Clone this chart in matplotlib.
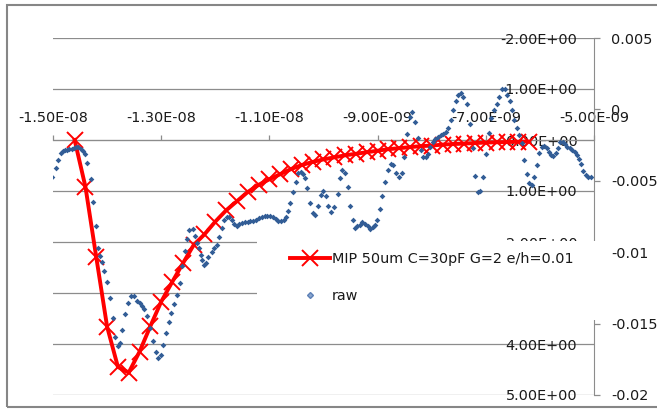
import numpy as np
import matplotlib
matplotlib.use('Agg')
import matplotlib.pyplot as plt
from matplotlib.patches import Rectangle
from matplotlib.lines import Line2D
from matplotlib.ticker import FuncFormatter

# MIP simulation, one point every 0.2 ns (primary axis, reversed)
mip_t_ns = [-14.6, -14.4, -14.2, -14.0, -13.8, -13.6, -13.4, -13.2, -13.0, -12.8,
            -12.6, -12.4, -12.2, -12.0, -11.8, -11.6, -11.4, -11.2, -11.0, -10.8,
            -10.6, -10.4, -10.2, -10.0, -9.8, -9.6, -9.4, -9.2, -9.0, -8.8,
            -8.6, -8.4, -8.2, -8.0, -7.8, -7.6, -7.4, -7.2, -7.0, -6.8,
            -6.6, -6.4, -6.2]
mip_val = [0.00, 0.92, 2.30, 3.66, 4.45, 4.56, 4.15, 3.65, 3.17, 2.79,
           2.42, 2.06, 1.85, 1.60, 1.38, 1.20, 1.02, 0.88, 0.77, 0.67,
           0.57, 0.49, 0.43, 0.38, 0.34, 0.30, 0.27, 0.24, 0.21, 0.18,
           0.16, 0.14, 0.12, 0.11, 0.09, 0.08, 0.07, 0.06, 0.05, 0.045,
           0.04, 0.035, 0.03]

# raw scope trace (secondary axis), time in ns, amplitude in mV
raw_t_ns = [-15.01, -14.95, -14.90, -14.86, -14.82, -14.78, -14.74, -14.70, -14.65, -14.61,
            -14.57, -14.53, -14.49, -14.45, -14.41, -14.37, -14.30, -14.26, -14.21, -14.16,
            -14.13, -14.09, -14.05, -14.00, -13.95, -13.90, -13.85, -13.80, -13.76, -13.72,
            -13.67, -13.61, -13.55, -13.50, -13.45, -13.40, -13.36, -13.32, -13.27, -13.21,
            -13.15, -13.10, -13.05, -13.01, -12.96, -12.92, -12.86, -12.81, -12.76, -12.70,
            -12.65, -12.61, -12.56, -12.52, -12.48, -12.42, -12.38, -12.34, -12.31, -12.27,
            -12.25, -12.21, -12.18, -12.13, -12.07, -12.02, -11.97, -11.93, -11.88, -11.83,
            -11.79, -11.74, -11.70, -11.65, -11.60, -11.56, -11.50, -11.45, -11.40, -11.35,
            -11.30, -11.25, -11.19, -11.14, -11.09, -11.04, -10.99, -10.94, -10.88, -10.84,
            -10.79, -10.73, -10.69, -10.66, -10.62, -10.56, -10.51, -10.47, -10.42, -10.38,
            -10.34, -10.30, -10.25, -10.20, -10.16, -10.10, -10.05, -10.00, -9.95, -9.91,
            -9.86, -9.81, -9.74, -9.69, -9.65, -9.60, -9.55, -9.51, -9.46, -9.42,
            -9.38, -9.33, -9.28, -9.23, -9.18, -9.14, -9.09, -9.05, -9.01, -8.96,
            -8.91, -8.86, -8.80, -8.76, -8.71, -8.66, -8.61, -8.55, -8.51, -8.46,
            -8.41, -8.37, -8.31, -8.25, -8.20, -8.16, -8.11, -8.07, -8.03, -7.98,
            -7.94, -7.89, -7.83, -7.79, -7.74, -7.69, -7.65, -7.60, -7.55, -7.51,
            -7.46, -7.42, -7.35, -7.29, -7.24, -7.20, -7.15, -7.10, -7.05, -7.00,
            -6.95, -6.90, -6.85, -6.80, -6.75, -6.70, -6.64, -6.60, -6.56, -6.52,
            -6.47, -6.43, -6.39, -6.34, -6.29, -6.24, -6.20, -6.15, -6.10, -6.06,
            -6.01, -5.97, -5.92, -5.87, -5.84, -5.80, -5.75, -5.71, -5.67, -5.63,
            -5.58, -5.54, -5.49, -5.44, -5.40, -5.36, -5.32, -5.28, -5.24, -5.20,
            -5.15, -5.11, -5.06]
raw_mv = [-4.70, -4.11, -3.53, -3.06, -2.90, -2.83, -2.83, -2.78, -2.76, -2.71,
          -2.64, -2.64, -2.76, -2.88, -3.13, -3.76, -4.88, -6.51, -8.19, -9.70,
          -10.29, -10.71, -11.29, -12.08, -13.24, -14.64, -15.92, -16.58, -16.34, -15.48,
          -14.36, -13.54, -13.08, -13.08, -13.43, -13.59, -13.78, -14.01, -14.48, -15.29,
          -16.23, -17.00, -17.39, -17.23, -16.53, -15.69, -14.90, -14.24, -13.66, -13.03,
          -12.15, -10.99, -9.94, -9.05, -8.42, -8.35, -8.84, -9.35, -9.70, -10.17,
          -10.52, -10.87, -10.75, -10.36, -10.01, -9.70, -9.47, -8.93, -8.30, -7.72,
          -7.53, -7.53, -7.72, -8.00, -8.14, -8.02, -7.95, -7.88, -7.91, -7.84,
          -7.79, -7.72, -7.63, -7.56, -7.49, -7.44, -7.44, -7.53, -7.67, -7.79,
          -7.84, -7.77, -7.53, -7.14, -6.56, -5.81, -5.05, -4.46, -4.40, -4.51,
          -4.79, -5.51, -6.56, -7.25, -7.37, -6.74, -6.02, -5.70, -6.09, -6.79,
          -7.18, -6.86, -5.93, -4.77, -4.23, -4.46, -5.44, -6.74, -7.77, -8.30,
          -8.19, -8.07, -7.91, -8.00, -8.19, -8.37, -8.23, -8.07, -7.72, -6.97,
          -6.05, -5.09, -4.23, -3.81, -3.88, -4.46, -4.73, -4.46, -3.30, -1.73,
          -0.50, -0.21, -0.85, -1.97, -2.83, -3.30, -3.30, -3.13, -2.60, -2.29,
          -2.06, -1.90, -1.78, -1.73, -1.55, -1.31, -0.73, -0.03, 0.59, 1.01,
          1.13, 0.89, 0.36, -1.03, -2.71, -4.63, -5.80, -5.74, -4.70, -3.13,
          -1.66, -0.62, -0.06, 0.38, 0.87, 1.43, 1.45, 1.01, 0.59, -0.03,
          -0.73, -1.27, -1.78, -2.36, -3.53, -4.53, -5.16, -5.28, -4.70, -3.88,
          -3.06, -2.60, -2.53, -2.67, -2.95, -3.18, -3.23, -3.06, -2.71, -2.29,
          -2.25, -2.43, -2.60, -2.71, -2.83, -2.95, -3.18, -3.46, -3.83, -4.30,
          -4.58, -4.70, -4.70]

x_ticks = [-1.5e-8, -1.3e-8, -1.1e-8, -9e-9, -7e-9, -5e-9]
y1_ticks = [-2, -1, 0, 1, 2, 3, 4, 5]
y2_ticks = [-0.02, -0.015, -0.01, -0.005, 0, 0.005]

grey = '#8c8c8c'
txt = '#1a1a1a'
fs = 10.4

fig = plt.figure(figsize=(6.57, 4.09), dpi=100)
ax = fig.add_axes([53/657, 14/409, 541/657, 357/409])
ax2 = ax.twinx()

ax.set_xlim(-1.5e-8, -5e-9)
ax.set_ylim(5, -2)
ax2.set_ylim(-0.02, 0.005)

# primary axis: gridlines, labels inside on the right
ax.set_yticks(y1_ticks)
ax.yaxis.set_major_formatter(FuncFormatter(lambda v, p: '%.2E' % v))
ax.yaxis.grid(True, color=grey, lw=0.9)
ax.spines['left'].set_position(('data', -5e-9))
ax.spines['left'].set_visible(False)
ax.spines['right'].set_visible(False)
ax.spines['bottom'].set_visible(False)
ax.tick_params(axis='y', length=0, pad=12, labelsize=fs, labelcolor=txt)

# x axis crosses at y = 0, labels above it
ax.spines['top'].set_position(('data', 0))
ax.spines['top'].set_color(grey)
ax.xaxis.set_ticks_position('top')
ax.set_xticks(x_ticks)
ax.xaxis.set_major_formatter(FuncFormatter(lambda v, p: '%.2E' % v))
ax.tick_params(axis='x', direction='out', length=3.6, width=0.9, color=grey,
               pad=7, labelsize=fs, labelcolor=txt)

# secondary axis
for s in ['top', 'bottom', 'left']:
    ax2.spines[s].set_visible(False)
ax2.spines['right'].set_color(grey)
ax2.set_yticks(y2_ticks)
ax2.yaxis.set_major_formatter(FuncFormatter(lambda v, p: '%g' % round(v, 4)))
ax2.tick_params(axis='y', direction='out', length=4, width=0.9, color=grey,
                pad=8.5, labelsize=fs, labelcolor=txt)

ax.plot(np.array(mip_t_ns) * 1e-9, mip_val, color='#ff0000', lw=2.8,
        marker='x', ms=11, mew=1.4, zorder=3)
ax2.plot(np.array(raw_t_ns) * 1e-9, np.array(raw_mv) / 1000, ls='none',
         marker='D', ms=2.9, color='#325d96', mec='none')

# white legend area covering grid
fig.add_artist(Rectangle((257/657, 89/409), 345/657, 79/409, transform=fig.transFigure,
                         facecolor='white', edgecolor='none', zorder=4))
# outer chart border
fig.add_artist(Rectangle((7/657, 2/409), 660/657, 402/409, transform=fig.transFigure,
                         fill=False, edgecolor='#868686', lw=1.5, zorder=4))

handles = [Line2D([], [], color='#ff0000', lw=2.8, marker='x', ms=11, mew=1.4),
           Line2D([], [], ls='none', marker='D', ms=3, mfc='#8aa6cf', mec='#5c80b6')]
labels = ['MIP 50um C=30pF G=2 e/h=0.01', 'raw']
fig.legend(handles, labels, loc='upper left', bbox_to_anchor=(290/657, 1 - 252/409),
           frameon=False, borderpad=0, borderaxespad=0, handlelength=2.75,
           handletextpad=0.15, labelspacing=1.6, numpoints=1,
           prop={'size': fs}, labelcolor=txt)

fig.savefig('out.png', dpi=100)
